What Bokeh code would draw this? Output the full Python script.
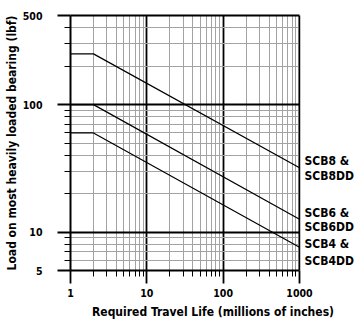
from bokeh.plotting import figure
from bokeh.models import (FixedTicker, Label, NumeralTickFormatter, BoxAnnotation, Span,
                          LogAxis)
from bokeh.embed import file_html
from bokeh.resources import INLINE

# ---- data ----
travel_life = [1, 2, 1000]          # millions of inches
load_scb8 = [250, 250, 32]          # lbf
load_scb6 = [100, 100, 12.6]
load_scb4 = [60, 60, 7.6]
series_names = [["SCB8 &", "SCB8DD"], ["SCB6 &", "SCB6DD"], ["SCB4 &", "SCB4DD"]]

x_major = [1, 10, 100, 1000]
x_minor = [2, 3, 4, 5, 6, 7, 8, 9, 20, 30, 40, 50, 60, 70, 80, 90,
           200, 300, 400, 500, 600, 700, 800, 900]
y_major = [5, 10, 100, 500]
y_minor = [6, 7, 8, 9, 20, 30, 40, 50, 60, 70, 80, 90, 200, 300, 400]

FONT = "DejaVu Sans Condensed"
X_MAX = 1000
X_VIEW_END = 5417   # extra room right of the chart for the series labels

p = figure(frame_width=285, frame_height=255, x_axis_type="log", y_axis_type="log",
           x_range=(1, X_VIEW_END), y_range=(5, 500),
           output_backend="svg", toolbar_location=None,
           min_border_left=70, min_border_right=0,
           min_border_top=15, min_border_bottom=0)
p.background_fill_color = "white"
p.border_fill_color = "white"
p.outline_line_color = None

xt = FixedTicker(ticks=x_major, minor_ticks=x_minor)
yt = FixedTicker(ticks=y_major, minor_ticks=y_minor)
p.xaxis.ticker = xt
p.yaxis.ticker = yt
p.xgrid.ticker = xt
p.ygrid.ticker = yt
p.xaxis.formatter = NumeralTickFormatter(format="0")
p.yaxis.formatter = NumeralTickFormatter(format="0")
p.xaxis.bounds = (1, X_MAX)

for g in (p.xgrid, p.ygrid):
    g.grid_line_color = "black"
    g.grid_line_width = 1.8
    g.minor_grid_line_color = "#a3a3a3"
    g.minor_grid_line_width = 1

for ax in (p.xaxis, p.yaxis):
    ax.axis_line_color = "black"
    ax.axis_line_width = 2
    ax.major_tick_line_color = "black"
    ax.major_tick_line_width = 1.8
    ax.minor_tick_line_color = "black"
    ax.minor_tick_line_width = 1
    ax.major_tick_out = 13
    ax.major_tick_in = 0
    ax.minor_tick_out = 6
    ax.minor_tick_in = 0
    ax.major_label_text_font = FONT
    ax.major_label_text_font_style = "bold"
    ax.major_label_text_font_size = "10.5px"
    ax.major_label_text_color = "black"
    ax.axis_label_text_font = FONT
    ax.axis_label_text_font_style = "bold"
    ax.axis_label_text_font_size = "12px"
    ax.axis_label_text_color = "black"

p.xaxis.axis_label = "Required Travel Life (millions of inches)"
p.yaxis.axis_label = "Load on most heavily loaded bearing (lbf)"
p.xaxis.major_label_standoff = 5
p.xaxis.axis_label_standoff = 5
p.yaxis.major_label_standoff = 15
p.yaxis.axis_label_standoff = 1
p.yaxis.major_label_orientation = "horizontal"

# top border of the chart as an unlabeled axis limited to the data span
top_axis = LogAxis(ticker=FixedTicker(ticks=[]), bounds=(1, X_MAX),
                   axis_line_color="black", axis_line_width=2,
                   major_tick_out=0, major_tick_in=0, minor_tick_out=0, minor_tick_in=0,
                   major_label_text_font_size="0px")
p.add_layout(top_axis, "above")

for ys in (load_scb8, load_scb6, load_scb4):
    p.line(travel_life, ys, line_color="black", line_width=1.2)

# blank out the label area right of the chart, then draw the right border
p.add_layout(BoxAnnotation(left=X_MAX, fill_color="white", fill_alpha=1.0,
                           line_color=None))
p.add_layout(Span(location=X_MAX, dimension="height", line_color="black", line_width=1.5))

offsets = [(7, -8), (6, -8), (3, -14)]
for ys, names, offs in zip((load_scb8, load_scb6, load_scb4), series_names, offsets):
    for name, off in zip(names, offs):
        p.add_layout(Label(x=travel_life[-1], y=ys[-1], x_offset=5, y_offset=off,
                           text=name, text_font=FONT, text_font_style="bold",
                           text_font_size="12px", text_color="black",
                           text_baseline="alphabetic", text_align="left"))

open("out.html", "w").write(file_html(p, INLINE))
